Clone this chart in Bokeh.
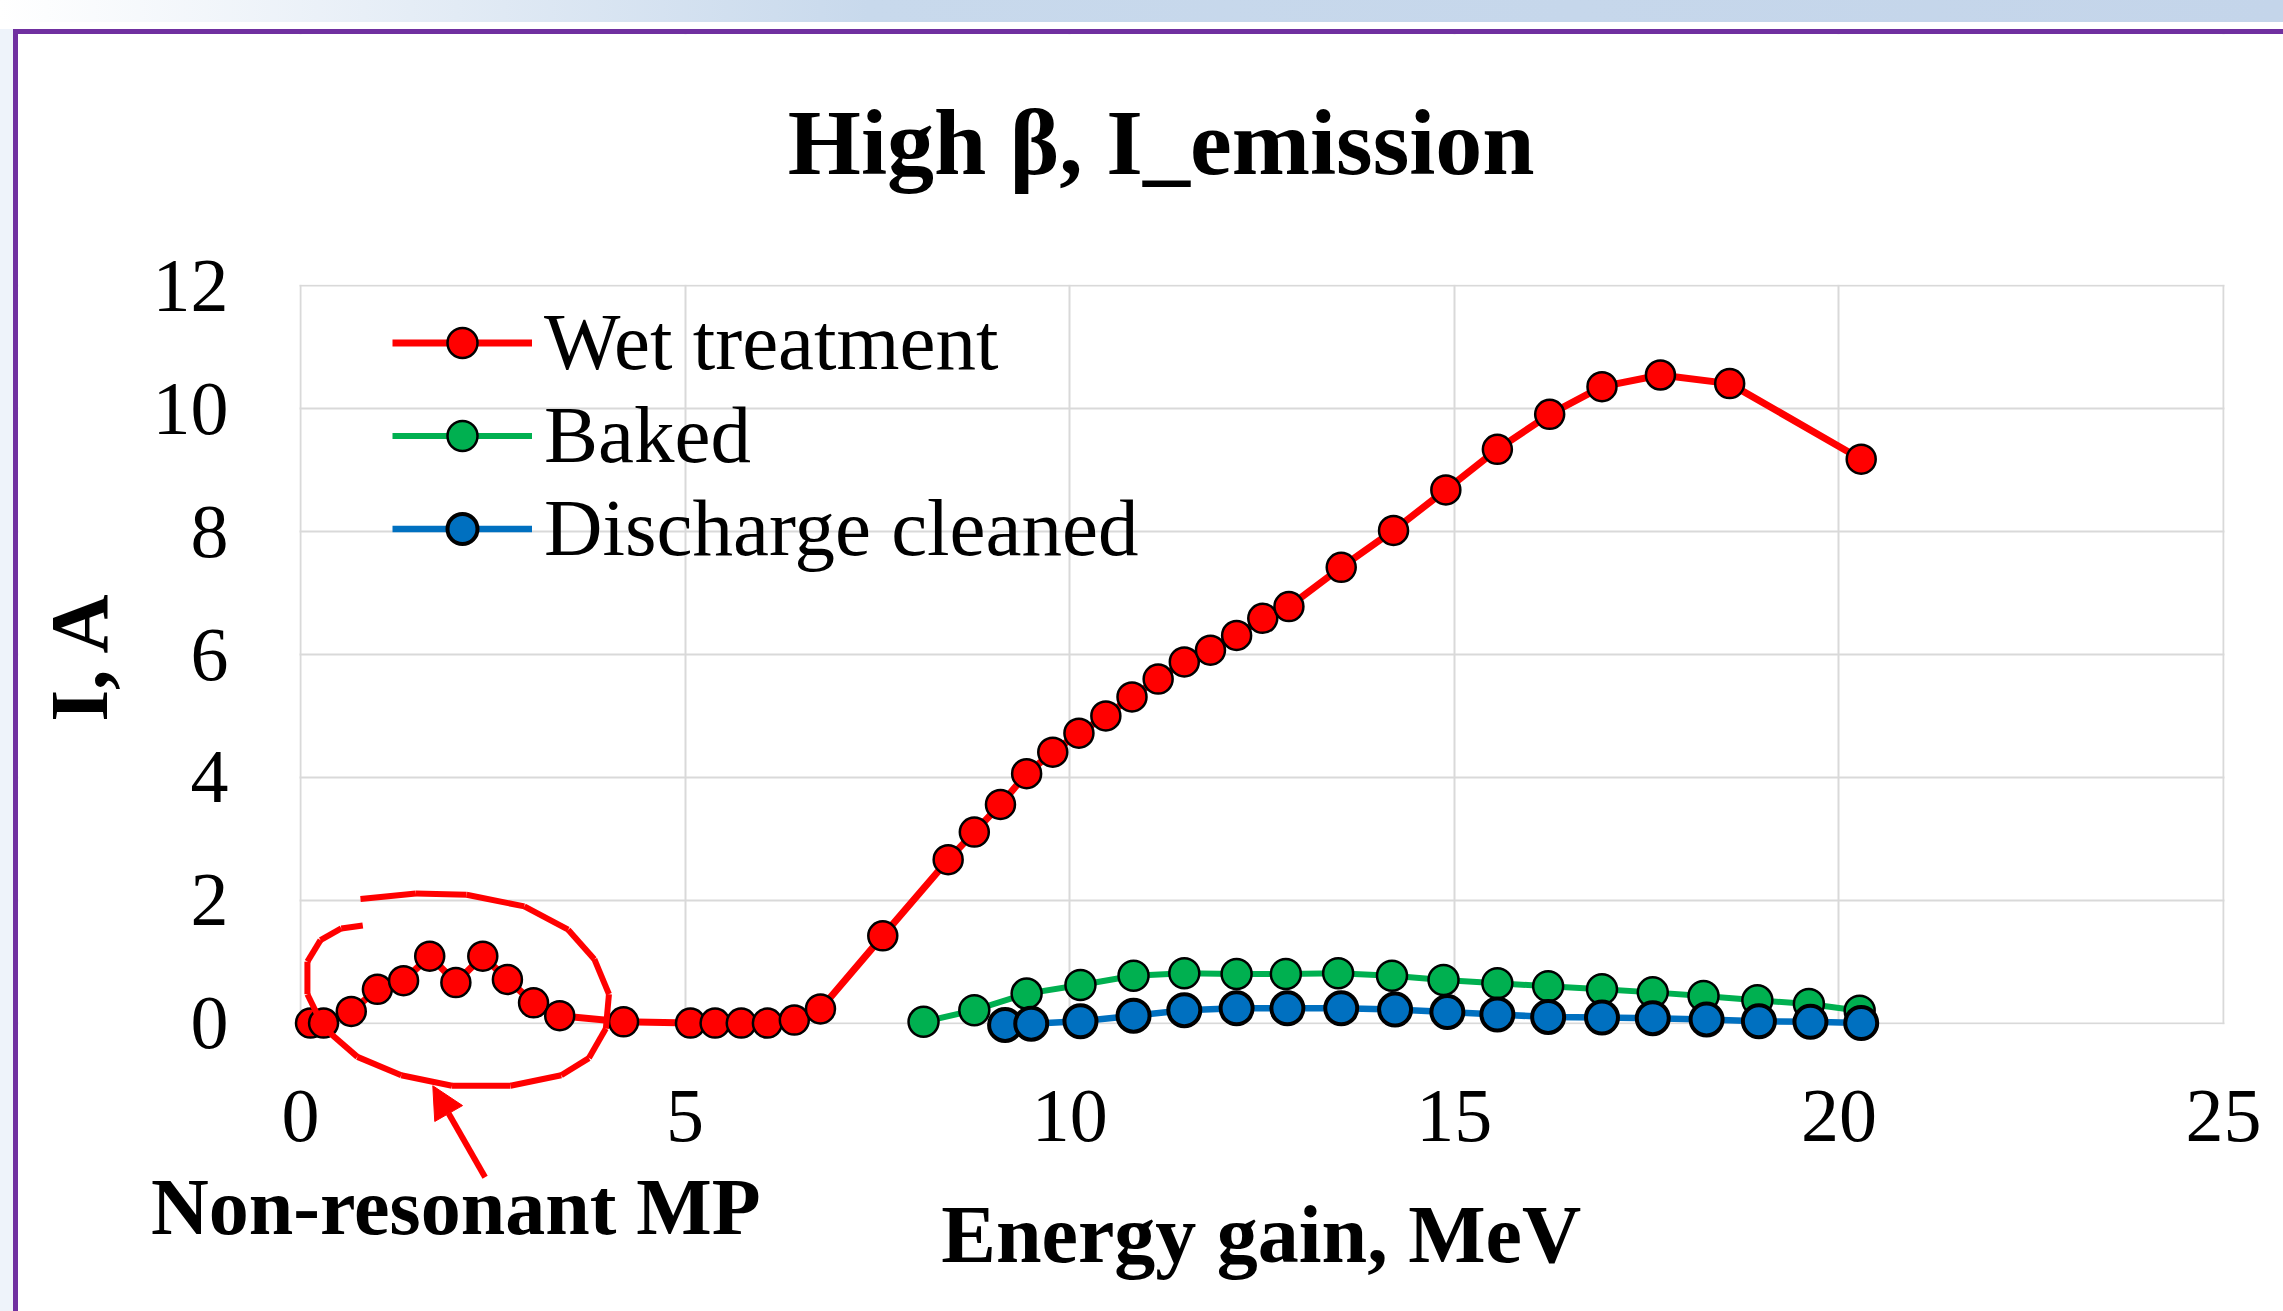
from bokeh.plotting import figure
from bokeh.models import (ColumnDataSource, Legend, LegendItem, FixedTicker,
                          Arrow, NormalHead, Label, Div, BoxAnnotation)
from bokeh.layouts import column, row
from bokeh.embed import file_html
from bokeh.resources import INLINE
import math

# ---------------- data ----------------
wet_x = [0.13, 0.30, 0.66, 1.00, 1.34, 1.68, 2.02, 2.37, 2.69, 3.03, 3.37, 4.20,
         5.07, 5.39, 5.73, 6.07, 6.42, 6.76, 7.57, 8.42, 8.76, 9.10, 9.44, 9.78,
         10.12, 10.47, 10.81, 11.15, 11.49, 11.83, 12.17, 12.51, 12.85, 13.53,
         14.21, 14.89, 15.56, 16.24, 16.92, 17.68, 18.58, 20.29]
wet_y = [0.00, 0.00, 0.19, 0.55, 0.69, 1.09, 0.66, 1.09, 0.71, 0.33, 0.12, 0.02,
         0.00, 0.00, 0.00, 0.00, 0.05, 0.23, 1.42, 2.66, 3.11, 3.56, 4.06, 4.41,
         4.72, 5.00, 5.31, 5.60, 5.88, 6.07, 6.31, 6.59, 6.78, 7.42,
         8.02, 8.68, 9.34, 9.91, 10.36, 10.55, 10.41, 9.18]

baked_x = [8.10, 8.76, 9.44, 10.14, 10.83, 11.49, 12.17, 12.81, 13.49, 14.19,
           14.86, 15.56, 16.22, 16.92, 17.58, 18.24, 18.94, 19.61, 20.27]
baked_y = [0.02, 0.21, 0.48, 0.62, 0.77, 0.81, 0.80, 0.80, 0.81, 0.77,
           0.70, 0.65, 0.60, 0.55, 0.50, 0.44, 0.37, 0.31, 0.20]

dc_x = [9.16, 9.50, 10.14, 10.83, 11.49, 12.17, 12.83, 13.53, 14.23, 14.91,
        15.56, 16.22, 16.92, 17.58, 18.28, 18.96, 19.63, 20.29]
dc_y = [-0.03, -0.01, 0.03, 0.12, 0.21, 0.24, 0.24, 0.24, 0.22, 0.18,
        0.14, 0.10, 0.09, 0.08, 0.06, 0.03, 0.02, 0.00]

series_labels = ["Wet treatment", "Baked", "Discharge cleaned"]
x_ticks = [0, 5, 10, 15, 20, 25]
y_ticks = [0, 2, 4, 6, 8, 10, 12]

title_text = "High β, I_emission"
x_label = "Energy gain, MeV"
y_label = "I, A"
note_text = "Non-resonant MP"

# text anchor positions (data units; outside the 0..25 x 0..12 plot area)
title_pos = (11.19, 14.35)
x_label_pos = (12.49, -3.44)
y_label_pos = (-2.87, 5.98)
note_pos = (2.02, -2.99)

# hand-drawn loop (annotation, data units) and arrow
loop_x = [0.78, 1.50, 2.16, 2.91, 3.48, 3.82, 4.01, 3.97, 3.75, 3.39, 2.73,
          1.97, 1.31, 0.74, 0.30, 0.09, 0.09, 0.26, 0.53, 0.81]
loop_y = [2.02, 2.11, 2.09, 1.90, 1.52, 1.04, 0.47, -0.09, -0.57, -0.85, -1.02,
          -1.02, -0.85, -0.55, -0.07, 0.47, 1.00, 1.35, 1.54, 1.59]
arrow_tail = (2.40, -2.51)
arrow_head = (1.72, -1.02)

# ---------------- figure ----------------
SERIF = "Liberation Serif"
W, H = 2265, 1277
# the frame covers the whole canvas so that texts / annotation outside the
# 0..25 x 0..12 plot area can be drawn; the area outside is masked white.
X_RANGE = (-3.666, 25.780)
Y_RANGE = (-4.695, 16.093)
p = figure(width=W, height=H, x_range=X_RANGE, y_range=Y_RANGE,
           output_backend="svg", toolbar_location=None, title_location=None,
           min_border_left=0, min_border_right=0,
           min_border_top=0, min_border_bottom=0)
p.background_fill_color = "white"
p.border_fill_color = "white"
p.outline_line_color = None

for ax in (p.xaxis[0], p.yaxis[0]):
    ax.axis_line_color = None
    ax.major_tick_line_color = None
    ax.minor_tick_line_color = None
    ax.major_label_text_font = SERIF
    ax.major_label_text_font_size = "76px"
    ax.major_label_text_color = "black"

p.xaxis.ticker = FixedTicker(ticks=x_ticks)
p.yaxis.ticker = FixedTicker(ticks=y_ticks)
p.xaxis.fixed_location = 0
p.yaxis.fixed_location = 0
p.xaxis.major_label_standoff = 62
p.yaxis.major_label_standoff = 66

p.xgrid.ticker = FixedTicker(ticks=x_ticks)
p.ygrid.ticker = FixedTicker(ticks=y_ticks)
p.xgrid.grid_line_color = "#d9d9d9"
p.ygrid.grid_line_color = "#d9d9d9"
p.xgrid.grid_line_width = 2
p.ygrid.grid_line_width = 2

# mask grid lines outside the plot area
for kw in (dict(top=-0.018), dict(bottom=12.018), dict(right=-0.014), dict(left=25.014)):
    p.add_layout(BoxAnnotation(fill_color="white", fill_alpha=1.0, line_alpha=0,
                               level="underlay", **kw))

src_w = ColumnDataSource(dict(x=wet_x, y=wet_y))
src_b = ColumnDataSource(dict(x=baked_x, y=baked_y))
src_d = ColumnDataSource(dict(x=dc_x, y=dc_y))

rl_w = p.line("x", "y", source=src_w, line_color="#ff0000", line_width=7)
rs_w = p.scatter("x", "y", source=src_w, size=29, fill_color="#ff0000",
                 line_color="black", line_width=2.5)
rl_b = p.line("x", "y", source=src_b, line_color="#00b050", line_width=6)
rs_b = p.scatter("x", "y", source=src_b, size=30, fill_color="#00b050",
                 line_color="black", line_width=2.5)
rl_d = p.line("x", "y", source=src_d, line_color="#0070c0", line_width=6.5)
rs_d = p.scatter("x", "y", source=src_d, size=32, fill_color="#0070c0",
                 line_color="black", line_width=4)

legend = Legend(items=[
    LegendItem(label=series_labels[0], renderers=[rl_w, rs_w]),
    LegendItem(label=series_labels[1], renderers=[rl_b, rs_b]),
    LegendItem(label=series_labels[2], renderers=[rl_d, rs_d]),
], location=(374, 736), padding=0, spacing=0, margin=0,
   glyph_width=140, glyph_height=75, label_standoff=12,
   label_text_font=SERIF, label_text_font_size="81px", label_text_color="black",
   background_fill_alpha=0, border_line_alpha=0)
p.add_layout(legend)

# texts
p.add_layout(Label(x=title_pos[0], y=title_pos[1], text=title_text, text_font=SERIF,
                   text_font_size="94px", text_font_style="bold", text_color="black",
                   text_align="center", text_baseline="middle"))
p.add_layout(Label(x=x_label_pos[0], y=x_label_pos[1], text=x_label, text_font=SERIF,
                   text_font_size="82px", text_font_style="bold", text_color="black",
                   text_align="center", text_baseline="middle"))
p.add_layout(Label(x=y_label_pos[0], y=y_label_pos[1], text=y_label, text_font=SERIF,
                   text_font_size="82px", text_font_style="bold", text_color="black",
                   text_align="center", text_baseline="middle", angle=math.pi / 2))

# annotation loop, arrow and note
seg = ColumnDataSource(dict(x0=loop_x[:-1], y0=loop_y[:-1], x1=loop_x[1:], y1=loop_y[1:]))
p.add_layout(Arrow(end=None, source=seg, x_start="x0", y_start="y0",
                   x_end="x1", y_end="y1", line_color="#ff0000", line_width=6))
p.add_layout(Arrow(end=NormalHead(size=32, fill_color="#ff0000", line_color="#ff0000"),
                   x_start=arrow_tail[0], y_start=arrow_tail[1],
                   x_end=arrow_head[0], y_end=arrow_head[1],
                   line_color="#ff0000", line_width=6))
p.add_layout(Label(x=note_pos[0], y=note_pos[1], text=note_text, text_font=SERIF,
                   text_font_size="80px", text_font_style="bold", text_color="black",
                   text_align="center", text_baseline="middle"))

# ---------------- page decoration ----------------
band = Div(text="", width=2283, height=29, margin=0,
           styles={"background": "linear-gradient(to right, #ffffff 0%, #c8d9ec 38%, #c4d5ea 100%) top left / 100% 22px no-repeat, #ffffff"})
strip = Div(text="", width=13, height=5 + H, margin=0, styles={"background": "#eef3fa"})
topline = Div(text="", width=5 + W, height=5, margin=0, styles={"background": "#7030a0"})
leftline = Div(text="", width=5, height=H, margin=0, styles={"background": "#7030a0"})

root = column(band, row(strip, column(topline, row(leftline, p, spacing=0), spacing=0), spacing=0), spacing=0)

open("out.html", "w").write(file_html(root, INLINE))
